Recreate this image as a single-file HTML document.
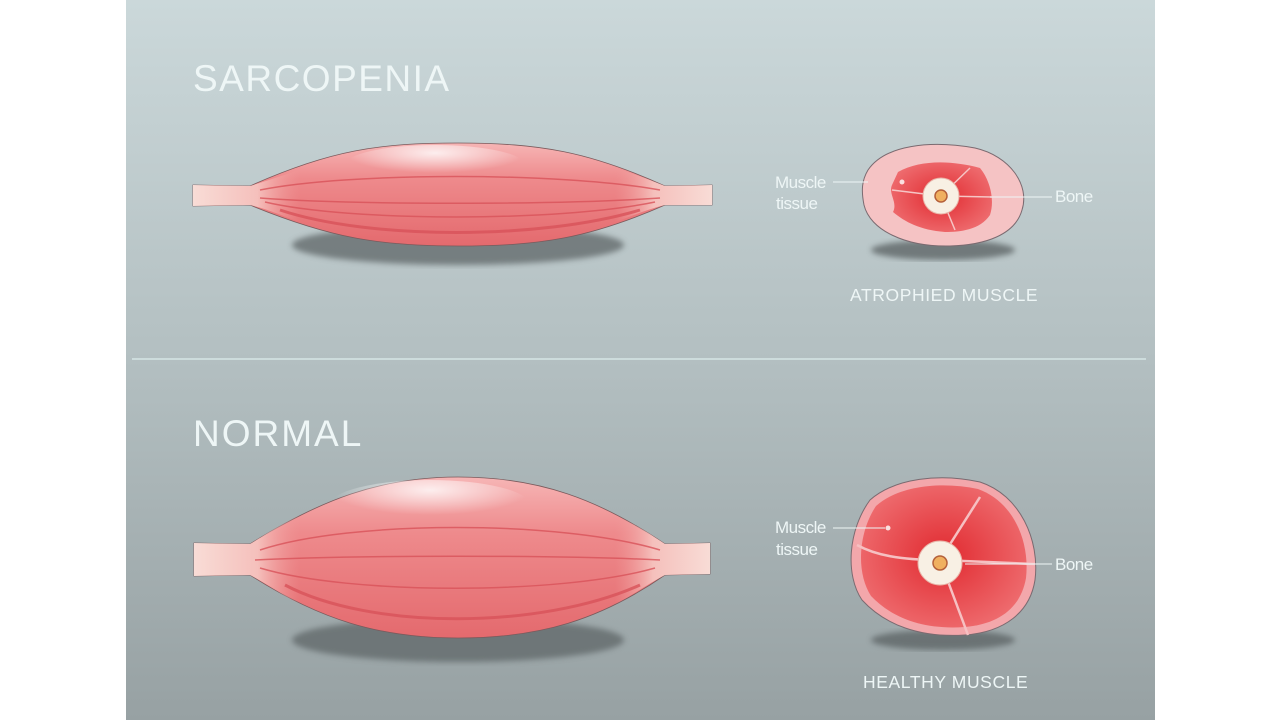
<!DOCTYPE html>
<html><head><meta charset="utf-8"><style>
html,body{margin:0;padding:0;background:#fff;}
svg{display:block}
text{font-family:"Liberation Sans",sans-serif;fill:#eef6f6}
</style></head><body>
<svg width="1280" height="720" viewBox="0 0 1280 720">
<defs>
<linearGradient id="bg" x1="0" y1="0" x2="0" y2="1">
<stop offset="0" stop-color="#cbd8da"/><stop offset="0.5" stop-color="#b3bfc1"/><stop offset="1" stop-color="#97a1a3"/>
</linearGradient>
<linearGradient id="mus" x1="0" y1="0" x2="0" y2="1">
<stop offset="0" stop-color="#f6b5b5"/><stop offset="0.35" stop-color="#ee8a8c"/><stop offset="1" stop-color="#e46a6e"/>
</linearGradient>
<linearGradient id="tend" x1="0" y1="0" x2="1" y2="0">
<stop offset="0" stop-color="#f8dcd6"/><stop offset="0.6" stop-color="#f5c0bc"/><stop offset="1" stop-color="#f09a9a" stop-opacity="0"/>
</linearGradient>
<linearGradient id="tend2" x1="1" y1="0" x2="0" y2="0">
<stop offset="0" stop-color="#f8dcd6"/><stop offset="0.6" stop-color="#f5c0bc"/><stop offset="1" stop-color="#f09a9a" stop-opacity="0"/>
</linearGradient>
<radialGradient id="hi" cx="0.5" cy="0.2" r="0.5">
<stop offset="0" stop-color="#fff" stop-opacity="0.8"/><stop offset="1" stop-color="#fff" stop-opacity="0"/>
</radialGradient>
<radialGradient id="red" cx="0.5" cy="0.5" r="0.55">
<stop offset="0" stop-color="#e12a30"/><stop offset="1" stop-color="#ee6b6e"/>
</radialGradient>
<filter id="blur"><feGaussianBlur stdDeviation="3"/></filter>
</defs>
<rect x="126" y="0" width="1029" height="720" fill="url(#bg)"/>
<line x1="132" y1="359" x2="1146" y2="359" stroke="#d6e6e6" stroke-width="1.5"/>

<text x="193" y="91" font-size="37" letter-spacing="1.5">SARCOPENIA</text>
<text x="193" y="446" font-size="37" letter-spacing="2">NORMAL</text>

<!-- top muscle -->
<ellipse cx="458" cy="245" rx="166" ry="20" fill="#5f6668" opacity="0.75" filter="url(#blur)"/>
<path d="M193 185 L250 186 C330 150 380 143 458 143 C540 143 590 152 665 186 L712 185 L712 205 L665 205 C590 238 540 246 458 246 C380 246 330 238 250 205 L193 206 Z" fill="url(#mus)" stroke="#7a5a5c" stroke-width="0.8"/>
<path d="M193 185 L250 186 C270 180 280 176 300 170 L300 222 C280 215 270 210 250 205 L193 206 Z" fill="url(#tend)"/>
<path d="M712 185 L665 186 C645 178 635 174 615 168 L615 222 C635 215 645 210 665 205 L712 205 Z" fill="url(#tend2)"/>
<ellipse cx="435" cy="165" rx="90" ry="20" fill="url(#hi)"/>
<g stroke="#d9535a" stroke-width="1.5" fill="none" opacity="0.8">
<path d="M260 190 C350 172 560 172 660 190"/><path d="M260 198 C350 205 560 205 660 198"/>
<path d="M265 202 C350 222 560 222 655 202"/><path d="M280 210 C370 240 540 240 640 210" stroke-width="3"/>
</g>

<!-- bottom muscle -->
<ellipse cx="458" cy="640" rx="166" ry="22" fill="#5f6668" opacity="0.75" filter="url(#blur)"/>
<path d="M194 543 L250 544 C320 500 380 477 458 477 C540 477 600 500 665 544 L710 543 L710 574 L665 575 C600 620 540 638 458 638 C380 638 320 620 250 575 L194 576 Z" fill="url(#mus)" stroke="#7a5a5c" stroke-width="0.8"/>
<path d="M194 543 L250 544 C265 535 275 528 300 515 L300 605 C275 590 265 583 250 575 L194 576 Z" fill="url(#tend)"/>
<path d="M710 543 L665 544 C650 534 640 527 615 515 L615 605 C640 590 650 583 665 575 L710 574 Z" fill="url(#tend2)"/>
<ellipse cx="430" cy="505" rx="100" ry="25" fill="url(#hi)"/>
<g stroke="#d9535a" stroke-width="1.5" fill="none" opacity="0.8">
<path d="M260 550 C350 520 560 520 660 550"/><path d="M255 560 C350 555 560 555 660 560"/>
<path d="M260 568 C350 595 560 595 655 568"/><path d="M285 585 C370 630 540 630 640 585" stroke-width="3"/>
</g>

<!-- atrophied cross section -->
<ellipse cx="943" cy="250" rx="72" ry="10" fill="#5f6668" opacity="0.8" filter="url(#blur)"/>
<path d="M868 170 C885 145 930 140 975 148 C1010 156 1030 185 1022 210 C1015 235 985 245 950 246 C905 247 870 230 864 205 C861 190 862 180 868 170 Z" fill="#f5c3c4" stroke="#7a6a70" stroke-width="1"/>
<path d="M898 172 C920 160 950 160 980 168 C990 180 995 200 990 215 C980 230 960 232 945 232 C920 230 905 222 893 212 C898 202 888 194 892 185 Z" fill="url(#red)"/>
<g stroke="#f6c5c5" stroke-width="1.5" fill="none">
<line x1="941" y1="196" x2="970" y2="168"/><line x1="941" y1="196" x2="955" y2="230"/><line x1="941" y1="196" x2="992" y2="197"/><line x1="941" y1="196" x2="892" y2="190"/>
</g>
<circle cx="941" cy="196" r="18" fill="#f8f0e4" stroke="#e8b4a8"/>
<circle cx="941" cy="196" r="6" fill="#f0b060" stroke="#b5603a" stroke-width="1.5"/>
<circle cx="902" cy="182" r="2.5" fill="#fbe0e0"/>
<line x1="833" y1="182" x2="868" y2="182" stroke="#eef6f6"/>
<line x1="990" y1="197" x2="1052" y2="197" stroke="#eef6f6"/>
<text x="775" y="188" font-size="17" letter-spacing="-0.5">Muscle</text>
<text x="776" y="209" font-size="17" letter-spacing="-0.5">tissue</text>
<text x="1055" y="202" font-size="17" letter-spacing="-0.5">Bone</text>
<text x="850" y="301" font-size="17.5" letter-spacing="0.6">ATROPHIED MUSCLE</text>

<!-- healthy cross section -->
<ellipse cx="943" cy="640" rx="72" ry="10" fill="#5f6668" opacity="0.8" filter="url(#blur)"/>
<path d="M870 500 C895 478 940 473 980 482 C1020 495 1040 540 1035 580 C1030 612 1005 632 965 635 C920 638 885 625 862 600 C845 575 848 530 870 500 Z" fill="#f3a7ab" stroke="#7a6a70" stroke-width="1"/>
<path d="M876 506 C898 486 940 481 978 489 C1014 502 1030 542 1026 578 C1021 607 1000 624 965 627 C923 630 892 618 871 596 C856 573 858 533 876 506 Z" fill="url(#red)"/>
<g stroke="#f6c0c2" stroke-width="2.5" fill="none">
<line x1="940" y1="560" x2="980" y2="497"/><line x1="940" y1="560" x2="968" y2="635"/><line x1="940" y1="560" x2="1035" y2="564"/><path d="M940 560 C900 560 875 555 857 545"/>
</g>
<circle cx="940" cy="563" r="22" fill="#f8f0e4" stroke="#e8b4a8"/>
<circle cx="940" cy="563" r="7" fill="#f0b060" stroke="#b5603a" stroke-width="1.5"/>
<circle cx="888" cy="528" r="2.5" fill="#fbe0e0"/>
<line x1="833" y1="528" x2="885" y2="528" stroke="#eef6f6"/>
<line x1="965" y1="564" x2="1052" y2="564" stroke="#eef6f6"/>
<text x="775" y="533" font-size="17" letter-spacing="-0.5">Muscle</text>
<text x="776" y="555" font-size="17" letter-spacing="-0.5">tissue</text>
<text x="1055" y="570" font-size="17" letter-spacing="-0.5">Bone</text>
<text x="863" y="688" font-size="17.5" letter-spacing="0.6">HEALTHY MUSCLE</text>
</svg>
</body></html>
